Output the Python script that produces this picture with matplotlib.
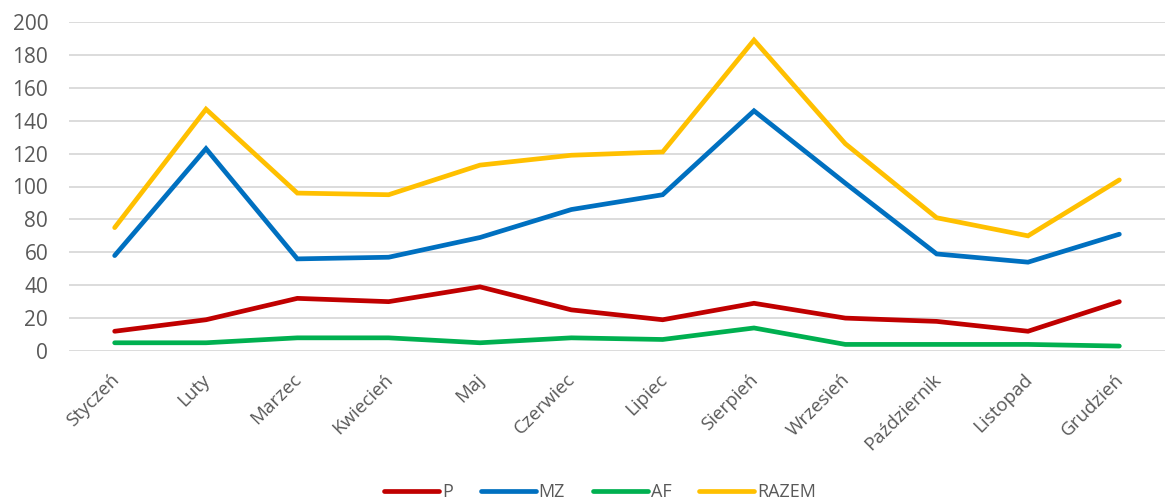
import matplotlib
matplotlib.use("Agg")
import matplotlib.pyplot as plt
import matplotlib.transforms as mtransforms

months = ["Styczeń", "Luty", "Marzec", "Kwiecień", "Maj", "Czerwiec", "Lipiec",
          "Sierpień", "Wrzesień", "Październik", "Listopad", "Grudzień"]
P = [12, 19, 32, 30, 39, 25, 19, 29, 20, 18, 12, 30]
MZ = [58, 123, 56, 57, 69, 86, 95, 146, 102, 59, 54, 71]
AF = [5, 5, 8, 8, 5, 8, 7, 14, 4, 4, 4, 3]
RAZEM = [75, 147, 96, 95, 113, 119, 121, 189, 126, 81, 70, 104]
yticks = [0, 20, 40, 60, 80, 100, 120, 140, 160, 180, 200]

plt.rcParams['font.family'] = ['Open Sans', 'DejaVu Sans']

fig = plt.figure(figsize=(11.7, 5.04), dpi=100)
ax = fig.add_axes([69/1170, 1 - 351/504, (1165 - 69)/1170, (351 - 22)/504])

x = list(range(len(months)))
series = [("P", P, "#C00000"), ("MZ", MZ, "#0070C0"), ("AF", AF, "#00B050"), ("RAZEM", RAZEM, "#FFC000")]
for name, vals, col in series:
    ax.plot(x, vals, color=col, lw=3.4, label=name, solid_capstyle='round', solid_joinstyle='miter', zorder=3)

ax.set_xlim(-0.5, len(months) - 0.5)
ax.set_ylim(0, 200)
ax.set_yticks(yticks)
ax.yaxis.grid(True, color="#D9D9D9", lw=1.3, zorder=0)
ax.set_axisbelow(True)
for s in ax.spines.values():
    s.set_visible(False)
ax.tick_params(axis='both', length=0, colors="#595959")
ax.tick_params(axis='y', pad=15, labelsize=15)
ax.tick_params(axis='x', pad=14, labelsize=13.5)
ax.set_xticks(x)
ax.set_xticklabels(months, rotation=45, ha='right', rotation_mode='anchor')
offset = mtransforms.ScaledTranslation(-5/100, 0, fig.dpi_scale_trans)
for lbl in ax.get_xticklabels():
    lbl.set_transform(lbl.get_transform() + offset)

leg = fig.legend(loc='center', bbox_to_anchor=(600/1170, 1 - 492/504), ncol=4, frameon=False,
                 fontsize=13, handlelength=3.05, handletextpad=0.15, columnspacing=1.55,
                 borderpad=0, borderaxespad=0)
for t in leg.get_texts():
    t.set_color("#595959")

fig.savefig("out.png", dpi=100)
